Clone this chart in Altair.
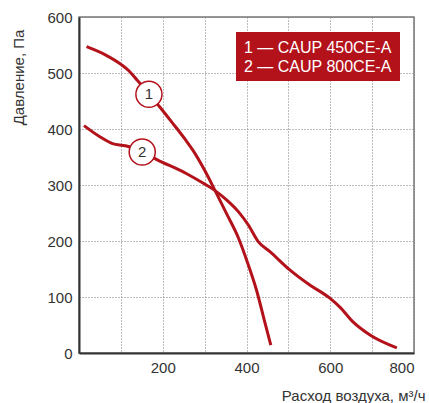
import altair as alt
import pandas as pd

# Curve 1 — CAUP 450CE-A
q1 = [18, 64, 101, 119, 139, 167, 191, 223, 255, 273, 301, 325, 353, 381, 404, 424, 442, 458]
p1 = [547, 532, 515, 504, 487, 463, 441, 411, 380, 361, 325, 290, 248, 205, 158, 112, 60, 14]
# Curve 2 — CAUP 800CE-A
q2 = [12, 48, 80, 111, 151, 187, 255, 297, 325, 353, 381, 404, 428, 456, 504, 552, 599, 623, 655, 695, 759]
p2 = [406, 387, 374, 370, 359, 345, 321, 303, 290, 273, 252, 229, 199, 181, 148, 121, 98, 82, 55, 32, 9]

# curve markers
marker_ids = ["1", "2"]
marker_q = [167, 151]
marker_p = [462, 359]

legend_lines = ["1 — CAUP 450CE-A", "2 — CAUP 800CE-A"]

RED = "#b3121b"
FONT = "Liberation Sans"

df = pd.DataFrame(
    {"q": q1 + q2, "p": p1 + p2, "s": ["1"] * len(q1) + ["2"] * len(q2)}
)
mk = pd.DataFrame({"id": marker_ids, "q": marker_q, "p": marker_p})

xs = alt.Scale(domain=[0, 800], nice=False)
ys = alt.Scale(domain=[0, 600], nice=False)

x_axis = alt.Axis(
    values=list(range(0, 801, 100)),
    labelExpr="datum.value % 200 == 0 && datum.value > 0 ? datum.label : ''",
    title="Расход воздуха, м³/ч",
    titleX=346, titleY=42, titleAlign="right", titleBaseline="middle",
)
y_axis = alt.Axis(
    values=list(range(0, 601, 100)),
    title="Давление, Па",
    titleX=-61, titleY=60, titleAlign="center", titleBaseline="middle",
    titleAngle=270,
)

lines = alt.Chart(df).mark_line(color=RED, strokeWidth=3, interpolate="monotone").encode(
    x=alt.X("q:Q", scale=xs, axis=x_axis),
    y=alt.Y("p:Q", scale=ys, axis=y_axis),
    detail="s:N",
)

circles = alt.Chart(mk).mark_point(
    shape="circle", size=680, filled=True, fill="white", stroke=RED, strokeWidth=1.5, opacity=1
).encode(x=alt.X("q:Q", scale=xs), y=alt.Y("p:Q", scale=ys))

circle_text = alt.Chart(mk).mark_text(font=FONT, fontSize=15, color="#333333").encode(
    x=alt.X("q:Q", scale=xs), y=alt.Y("p:Q", scale=ys), text="id:N"
)

one = pd.DataFrame({"a": [0]})
legend_box = alt.Chart(one).mark_rect(color=RED).encode(
    x=alt.value(157), x2=alt.value(321), y=alt.value(15), y2=alt.value(64)
)
legend_text1 = alt.Chart(one).mark_text(
    font=FONT, fontSize=16, color="white", align="left", baseline="middle", text=legend_lines[0]
).encode(x=alt.value(165), y=alt.value(31))
legend_text2 = alt.Chart(one).mark_text(
    font=FONT, fontSize=16, color="white", align="left", baseline="middle", text=legend_lines[1]
).encode(x=alt.value(165), y=alt.value(50))

chart = (
    alt.layer(lines, circles, circle_text, legend_box, legend_text1, legend_text2)
    .properties(
        width=335, height=336,
        padding={"left": 79, "top": 17, "right": 15, "bottom": 50},
        autosize=alt.AutoSizeParams(type="none"),
        background="white",
    )
    .configure_view(stroke="#777777", strokeWidth=1.5)
    .configure_axis(
        grid=True, gridColor="#7a7a7a", gridDash=[1, 2], gridWidth=1,
        domainColor="#333333", domainWidth=2,
        ticks=False, labelFont=FONT, labelFontSize=15, labelColor="#333333",
        titleFont=FONT, titleFontSize=15, titleColor="#333333", titleFontWeight="normal",
    )
    .configure_axisY(labelPadding=7)
    .configure_axisX(labelPadding=7)
)

chart.save("out.html", embed_options={"renderer": "svg", "actions": False})
